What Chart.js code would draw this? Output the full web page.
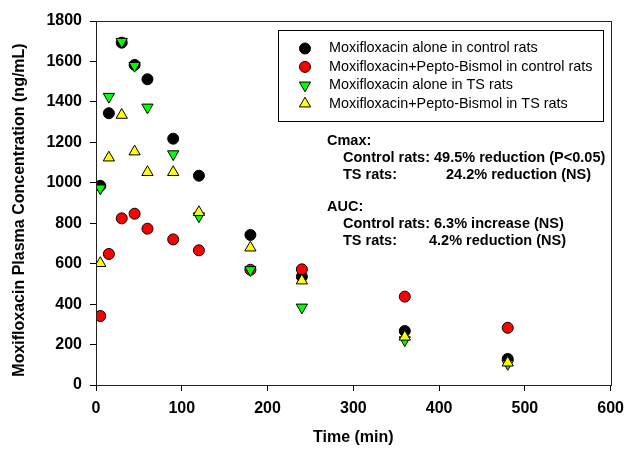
<!DOCTYPE html>
<html>
<head>
<meta charset="utf-8">
<script src="https://cdn.jsdelivr.net/npm/chart.js@4.4.0/dist/chart.umd.min.js"></script>
<style>
  html, body { margin: 0; padding: 0; background: #fff; }
  #wrap { width: 632px; height: 451px; }
</style>
</head>
<body>
<div id="wrap"><canvas id="pk-chart" width="632" height="451"></canvas></div>
<script>
// sampling times (min)
const TIMES = [5, 15, 30, 45, 60, 90, 120, 180, 240, 360, 480];

// plasma concentration (ng/mL)
const ALONE_CONTROL = [985, 1344, 1693, 1583, 1512, 1218, 1035, 742, 536, 267, 129];
const PEPTO_CONTROL = [341, 648, 824, 847, 773, 720, 666, 570, 572, 437, 283];
const ALONE_TS = [973, 1426, 1698, 1579, 1373, 1142, 835, 569, 384, 222, 105];
const PEPTO_TS = [602, 1124, 1335, 1154, 1052, 1052, 854, 679, 516, 238, 110];

const SERIES_LABELS = [
    'Moxifloxacin alone in control rats',
    'Moxifloxacin+Pepto-Bismol in control rats',
    'Moxifloxacin alone in TS rats',
    'Moxifloxacin+Pepto-Bismol in TS rats',
];

// tick labels
const X_TICKS = [0, 100, 200, 300, 400, 500, 600];
const Y_TICKS = [0, 200, 400, 600, 800, 1000, 1200, 1400, 1600, 1800];

const Y_TITLE = 'Moxifloxacin Plasma Concentration (ng/mL)';

// text block on the right
const NOTES = [
    { text: 'Cmax:', x: 327, y: 141 },
    { text: 'Control rats: 49.5% reduction (P<0.05)', x: 343, y: 158 },
    { text: 'TS rats:', x: 343, y: 175 },
    { text: '24.2% reduction (NS)', x: 446, y: 175 },
    { text: 'AUC:', x: 327, y: 207 },
    { text: 'Control rats: 6.3% increase (NS)', x: 343, y: 224 },
    { text: 'TS rats:', x: 343, y: 241 },
    { text: '4.2% reduction (NS)', x: 429, y: 241 },
];

const FONT = "'Liberation Sans', Arial, sans-serif";

function points(values) {
    return TIMES.map((t, i) => ({ x: t, y: values[i] }));
}

// frame, legend box, notes and y title, drawn by hand
const extras = {
    id: 'extras',
    afterDraw(chart) {
        const ctx = chart.ctx;
        const xs = chart.scales.x;
        const ys = chart.scales.y;
        const left = Math.round(xs.getPixelForValue(0));
        const right = Math.round(xs.getPixelForValue(600)) + 0.5;
        const top = Math.round(ys.getPixelForValue(1800)) + 0.5;
        const bottom = Math.round(ys.getPixelForValue(0));
        ctx.save();

        // top and right frame lines
        ctx.lineWidth = 1;
        ctx.strokeStyle = '#222';
        ctx.strokeRect(left + 0.5, top, right - left - 0.5, bottom - top + 0.5);

        // legend
        ctx.strokeStyle = '#000';
        ctx.fillStyle = '#fff';
        ctx.fillRect(278.5, 30.5, 325, 91);
        ctx.strokeRect(278.5, 30.5, 325, 91);
        ctx.font = '14.4px ' + FONT;
        ctx.textBaseline = 'middle';
        chart.data.datasets.forEach((ds, i) => {
            const y = 48.5 + i * 18.4;
            ctx.fillStyle = ds.backgroundColor;
            ctx.strokeStyle = '#000';
            Chart.helpers.drawPoint(ctx, {
                pointStyle: ds.pointStyle,
                rotation: ds.rotation || 0,
                radius: ds.pointRadius,
                borderWidth: 1
            }, 305, y);
            ctx.fillStyle = '#000';
            ctx.fillText(SERIES_LABELS[i], 329, y);
        });

        // notes
        ctx.font = 'bold 14.5px ' + FONT;
        NOTES.forEach(n => ctx.fillText(n.text, n.x, n.y));

        // y axis title
        ctx.font = 'bold 16px ' + FONT;
        ctx.textAlign = 'center';
        ctx.translate(20, 210);
        ctx.rotate(-Math.PI / 2);
        ctx.fillText(Y_TITLE, 0, 0);
        ctx.restore();
    }
};

const axisGrid = {
    drawOnChartArea: false,
    drawTicks: true,
    tickLength: 6,
    color: '#000',
    tickColor: '#000'
};

const pkChart = new Chart(document.getElementById('pk-chart').getContext('2d'), {
    type: 'scatter',
    data: {
        datasets: [{
            label: SERIES_LABELS[0],
            data: points(ALONE_CONTROL),
            backgroundColor: '#000000',
            pointStyle: 'circle',
            pointRadius: 5.5,
            order: 4
        }, {
            label: SERIES_LABELS[1],
            data: points(PEPTO_CONTROL),
            backgroundColor: '#ff0000',
            pointStyle: 'circle',
            pointRadius: 5.5,
            order: 3
        }, {
            label: SERIES_LABELS[2],
            data: points(ALONE_TS),
            backgroundColor: '#00ff00',
            pointStyle: 'triangle',
            rotation: 180,
            pointRadius: 6.5,
            order: 2
        }, {
            label: SERIES_LABELS[3],
            data: points(PEPTO_TS),
            backgroundColor: '#ffff00',
            pointStyle: 'triangle',
            pointRadius: 6.5,
            order: 1
        }]
    },
    options: {
        responsive: false,
        animation: false,
        events: [],
        layout: { padding: { top: 21, right: 11, left: 0, bottom: 0 } },
        elements: {
            point: { borderColor: '#000', borderWidth: 1 }
        },
        plugins: {
            legend: { display: false },
            tooltip: { enabled: false }
        },
        scales: {
            x: {
                type: 'linear',
                min: 0,
                max: 600,
                afterBuildTicks: s => { s.ticks = X_TICKS.map(v => ({ value: v })); },
                afterFit: s => { s.height = 66; },
                grid: axisGrid,
                border: { color: '#000', width: 1 },
                ticks: {
                    color: '#000',
                    padding: 8,
                    maxRotation: 0,
                    callback: v => String(v),
                    font: { family: FONT, size: 16, weight: 'bold' }
                },
                title: {
                    display: true,
                    text: 'Time (min)',
                    color: '#000',
                    padding: { bottom: 4 },
                    font: { family: FONT, size: 16, weight: 'bold' }
                }
            },
            y: {
                min: 0,
                max: 1800,
                afterBuildTicks: s => { s.ticks = Y_TICKS.map(v => ({ value: v })); },
                afterFit: s => { s.width = 96; },
                grid: axisGrid,
                border: { color: '#000', width: 1 },
                ticks: {
                    color: '#000',
                    padding: 8,
                    callback: v => String(v),
                    font: { family: FONT, size: 16, weight: 'bold' }
                }
            }
        }
    },
    plugins: [extras]
});
</script>
</body>
</html>
